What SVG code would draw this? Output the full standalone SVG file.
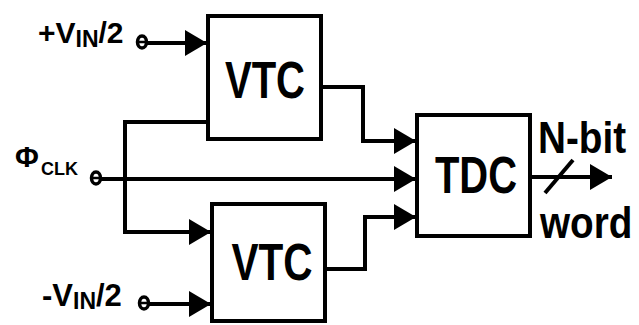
<svg xmlns="http://www.w3.org/2000/svg" width="639" height="325" viewBox="0 0 639 325">
  <defs>
    <marker id="arrow" markerUnits="userSpaceOnUse" markerWidth="24" markerHeight="26" refX="22" refY="13" orient="auto">
      <path d="M0,0 L22,13 L0,26 z" fill="#000"/>
    </marker>
    <style>
      .box { fill: #fff; stroke: #000; stroke-width: 4; }
      .wire { fill: none; stroke: #000; stroke-width: 4; stroke-linejoin: miter; }
      .arr { marker-end: url(#arrow); }
      .term { fill: #fff; stroke: #000; stroke-width: 3.5; }
      .lbl { font-family: "Liberation Sans", Arial, sans-serif; font-weight: bold; fill: #000; }
    </style>
  </defs>

  <rect width="639" height="325" fill="#fff"/>

  <!-- wiring -->
  <g id="connectors">
    <!-- +Vin/2 into upper converter -->
    <line class="wire arr" x1="147" y1="43" x2="207" y2="43"/>
    <!-- clock trunk straight into the TDC -->
    <line class="wire arr" x1="101" y1="179" x2="416" y2="179"/>
    <!-- clock branches to both converters -->
    <polyline class="wire arr" points="206,122 125,122 125,232 211,232"/>
    <!-- -Vin/2 into lower converter -->
    <line class="wire arr" x1="149" y1="304" x2="211" y2="304"/>
    <!-- converter outputs into the TDC -->
    <polyline class="wire arr" points="321,87 363,87 363,141 416,141"/>
    <polyline class="wire arr" points="325,269 365,269 365,217 416,217"/>
    <!-- digital output bus -->
    <line class="wire arr" x1="530" y1="177" x2="612" y2="177"/>
    <line class="wire" x1="545" y1="193" x2="573" y2="160" stroke-width="3.5"/>
  </g>

  <!-- input terminals -->
  <g id="term-vinp">
    <ellipse class="term" cx="142" cy="42" rx="4.5" ry="6"/>
    <line x1="139" y1="42" x2="145" y2="42" stroke="#000" stroke-width="2.5"/>
  </g>
  <g id="term-clk">
    <ellipse class="term" cx="96" cy="178" rx="4.5" ry="6"/>
    <line x1="93" y1="178" x2="99" y2="178" stroke="#000" stroke-width="2.5"/>
  </g>
  <g id="term-vinn">
    <ellipse class="term" cx="144" cy="303" rx="4.5" ry="6"/>
    <line x1="141" y1="303" x2="147" y2="303" stroke="#000" stroke-width="2.5"/>
  </g>

  <!-- blocks -->
  <g id="vtc-top">
    <rect class="box" x="208" y="16" width="113" height="123"/>
    <text class="lbl" x="265" y="98" font-size="52" text-anchor="middle" textLength="80" lengthAdjust="spacingAndGlyphs">VTC</text>
  </g>
  <g id="vtc-bottom">
    <rect class="box" x="212" y="204" width="113" height="117"/>
    <text class="lbl" x="272" y="280" font-size="52" text-anchor="middle" textLength="81" lengthAdjust="spacingAndGlyphs">VTC</text>
  </g>
  <g id="tdc">
    <rect class="box" x="417" y="115" width="113" height="121"/>
    <text class="lbl" x="476" y="193" font-size="52" text-anchor="middle" textLength="82" lengthAdjust="spacingAndGlyphs">TDC</text>
  </g>

  <!-- signal labels -->
  <g id="labels">
    <text class="lbl" x="38" y="43" font-size="30">+V<tspan font-size="23" dy="4">IN</tspan><tspan dy="-4">/2</tspan></text>
    <text class="lbl" x="42" y="306" font-size="31">-V<tspan font-size="23" dy="3">IN</tspan><tspan dy="-3">/2</tspan></text>
    <text class="lbl" x="15" y="167" font-size="29">Φ</text>
    <text class="lbl" x="41" y="175" font-size="18">CLK</text>
    <text class="lbl" transform="translate(538,153) scale(0.86,1)" font-size="45">N-bit</text>
    <text class="lbl" transform="translate(540,238) scale(0.86,1)" font-size="45">word</text>
  </g>
</svg>
